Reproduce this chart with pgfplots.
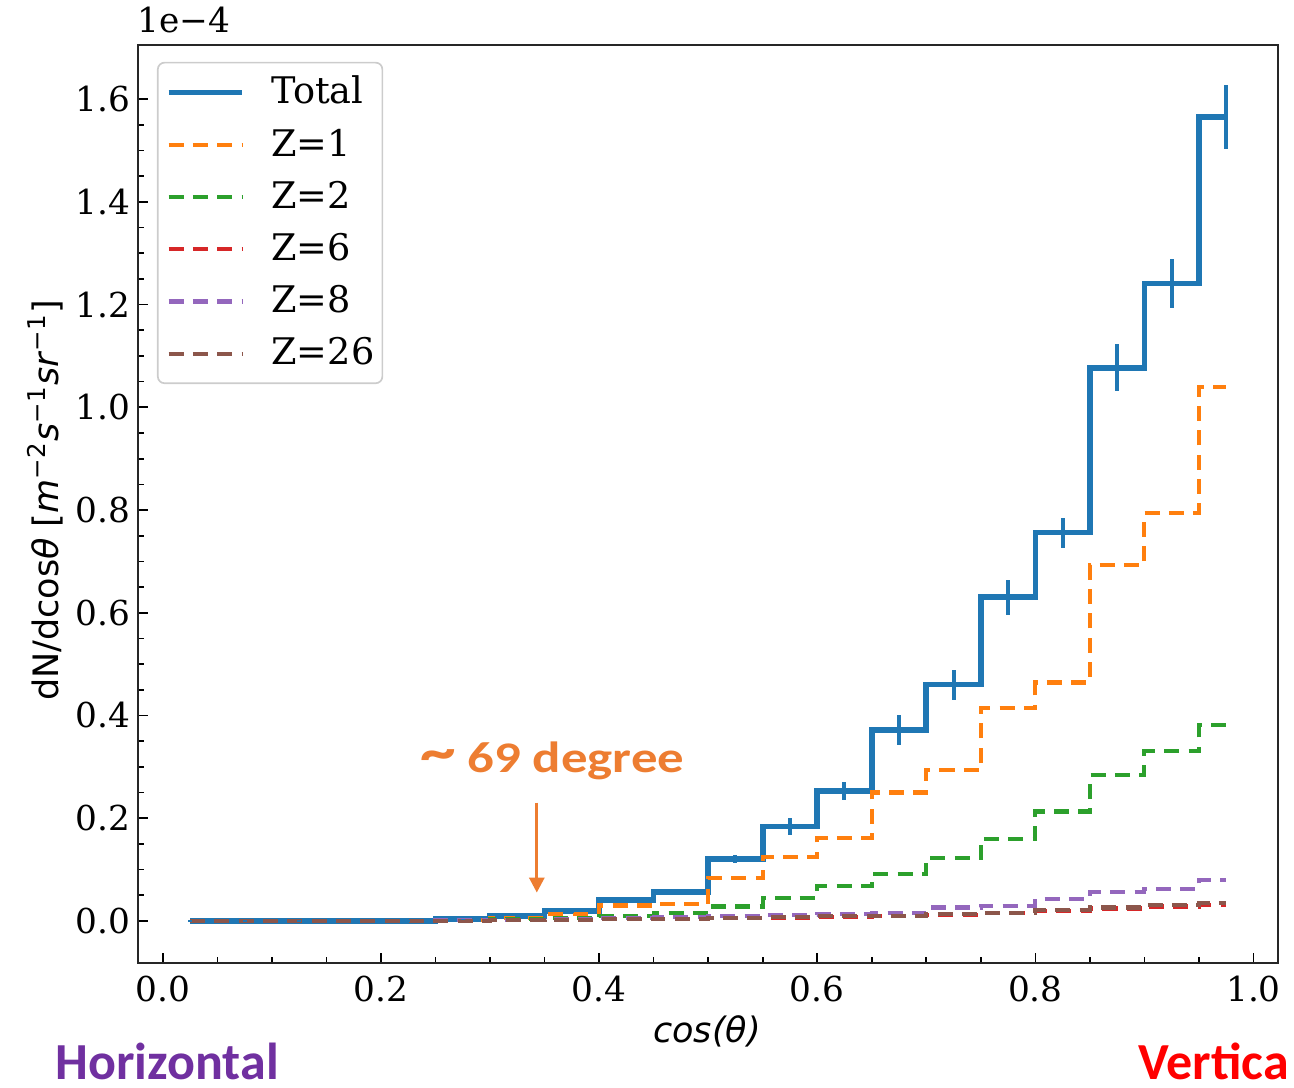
\documentclass[border=0pt]{standalone}
\usepackage{pgfplots}
\usepackage{pgfplotstable}
\pgfplotsset{compat=1.18}
\usetikzlibrary{arrows.meta}
\usepackage{fontspec}
\setmainfont{DejaVu Serif}
\newfontfamily\djs{DejaVu Sans}
\newfontfamily\carl{Carlito}

\definecolor{c0}{HTML}{1F77B4}
\definecolor{c1}{HTML}{FF7F0E}
\definecolor{c2}{HTML}{2CA02C}
\definecolor{c3}{HTML}{D62728}
\definecolor{c4}{HTML}{9467BD}
\definecolor{c5}{HTML}{8C564B}
\definecolor{annor}{HTML}{ED7D31}
\definecolor{hpur}{HTML}{7030A0}
\definecolor{vred}{HTML}{FF0000}

\pgfplotstableread{
x     total err   zone  ztwo  zsix  zeight ztsix
0.025 0.000 0.001 0.000 0.000 0.000 0.000 0.000
0.075 0.000 0.001 0.000 0.000 0.000 0.000 0.000
0.125 0.000 0.001 0.000 0.000 0.000 0.000 0.000
0.175 0.000 0.001 0.000 0.000 0.000 0.000 0.000
0.225 0.000 0.001 0.000 0.000 0.000 0.000 0.000
0.275 0.003 0.001 0.002 0.001 0.000 0.001 0.000
0.325 0.009 0.002 0.005 0.003 0.001 0.002 0.001
0.375 0.019 0.003 0.013 0.005 0.002 0.003 0.002
0.425 0.040 0.004 0.030 0.010 0.003 0.005 0.003
0.475 0.056 0.005 0.033 0.016 0.004 0.007 0.004
0.525 0.120 0.008 0.083 0.028 0.005 0.010 0.005
0.575 0.184 0.016 0.125 0.045 0.006 0.012 0.007
0.625 0.253 0.018 0.162 0.068 0.008 0.014 0.009
0.675 0.372 0.029 0.250 0.091 0.009 0.016 0.010
0.725 0.460 0.029 0.294 0.122 0.012 0.026 0.013
0.775 0.630 0.034 0.414 0.160 0.015 0.029 0.016
0.825 0.756 0.029 0.464 0.213 0.019 0.042 0.021
0.875 1.077 0.046 0.693 0.284 0.024 0.056 0.026
0.925 1.241 0.047 0.795 0.330 0.028 0.062 0.031
0.975 1.566 0.062 1.040 0.381 0.031 0.079 0.034
}\data

\begin{document}
\begin{tikzpicture}
\begin{axis}[
  at={(0,0)}, anchor=south west,
  scale only axis, width=341.91pt, height=275.22pt,
  xmin=-0.0225, xmax=1.0225, ymin=-0.0815, ymax=1.705,
  clip=false,
  xtick={0,0.2,0.4,0.6,0.8,1.0},
  ytick={0,0.2,0.4,0.6,0.8,1.0,1.2,1.4,1.6},
  minor x tick num=3, minor y tick num=3,
  tick align=inside, xtick pos=left, ytick pos=left,
  major tick length=2.9pt, minor tick length=1.6pt,
  every tick/.style={black, line width=0.5pt},
  axis line style={black!85, line width=0.6pt},
  scaled ticks=false,
  /pgf/number format/.cd, fixed, fixed zerofill, precision=1, assume math mode=true,
  /pgfplots/.cd,
  tick label style={font=\fontsize{10.3}{12}\selectfont},
  xticklabel style={yshift=-0.6pt},
  yticklabel style={xshift=1pt},
  xlabel={\djs\itshape cos(θ)},
  xlabel style={at={(axis description cs:0.499,0)}, anchor=base, yshift=-23.8pt, font=\fontsize{10.5}{12}\selectfont},
  ylabel={\djs dN/dcos\textit{θ} [\textit{m}\textsuperscript{−2}\textit{s}\textsuperscript{−1}\textit{sr}\textsuperscript{−1}]},
  ylabel style={at={(axis description cs:-0.0816,0.504)}, anchor=center, font=\fontsize{10.5}{12}\selectfont},
  legend cell align=left,
  legend image code/.code={\draw[#1] (0pt,0pt) -- (22pt,0pt); \path (30pt,0pt);},
  legend style={at={(0.0164,0.982)}, anchor=north west, draw=black!20, line width=0.5pt,
    rounded corners=2pt, fill=white, inner xsep=2.4pt, inner ysep=4pt,
    font=\fontsize{11}{13}\selectfont, row sep=6.0pt,
    nodes={inner sep=0pt}},
]
\addplot[c0, line width=1.7pt, const plot mark mid] table[x=x, y=total] {\data};
\addlegendentry{Total}
\addplot[c1, line width=1.25pt, dash pattern=on 4.5pt off 2.8pt, const plot mark mid] table[x=x, y=zone] {\data};
\addlegendentry{Z=1}
\addplot[c2, line width=1.25pt, dash pattern=on 4.5pt off 2.8pt, const plot mark mid] table[x=x, y=ztwo] {\data};
\addlegendentry{Z=2}
\addplot[c3, line width=1.25pt, dash pattern=on 4.5pt off 2.8pt, const plot mark mid] table[x=x, y=zsix] {\data};
\addlegendentry{Z=6}
\addplot[c4, line width=1.25pt, dash pattern=on 4.5pt off 2.8pt, const plot mark mid] table[x=x, y=zeight] {\data};
\addlegendentry{Z=8}
\addplot[c5, line width=1.25pt, dash pattern=on 4.5pt off 2.8pt, const plot mark mid] table[x=x, y=ztsix] {\data};
\addlegendentry{Z=26}
\addplot[forget plot, draw=none, mark=none,
  error bars/.cd, y dir=both, y explicit, error mark=none,
  error bar style={draw=c0, solid, line width=1.2pt}]
  table[x=x, y=total, y error=err] {\data};

\node[anchor=base west, inner sep=0pt, font=\fontsize{10.3}{12}\selectfont] at ([yshift=3.7pt]rel axis cs:-0.001,1) {1e−4};
\draw[annor, line width=0.9pt, -{Triangle[width=4.5pt,length=4.5pt]}] (axis cs:0.3429,0.230) -- (axis cs:0.3429,0.055);
\node[anchor=base, inner sep=0pt, text=annor, font=\carl\bfseries\fontsize{13.1}{15}\selectfont] at (axis cs:0.357,0.2885) {\scalebox{1.21}[1]{\raisebox{0.5pt}{\scalebox{1.35}{\textasciitilde}}\ 69 degree}};
\node[anchor=base west, inner sep=0pt, text=hpur, font=\carl\bfseries\fontsize{15.6}{18}\selectfont] at ([xshift=-25pt, yshift=-35pt]rel axis cs:0,0) {Horizontal};
\node[anchor=base west, inner sep=0pt, text=vred, font=\carl\bfseries\fontsize{15.6}{18}\selectfont] at ([xshift=299.9pt, yshift=-35pt]rel axis cs:0,0) {Vertica};
\end{axis}
\path[use as bounding box] (-41.49pt,-37.59pt) rectangle (346.71pt,288.81pt);
\end{tikzpicture}
\end{document}
